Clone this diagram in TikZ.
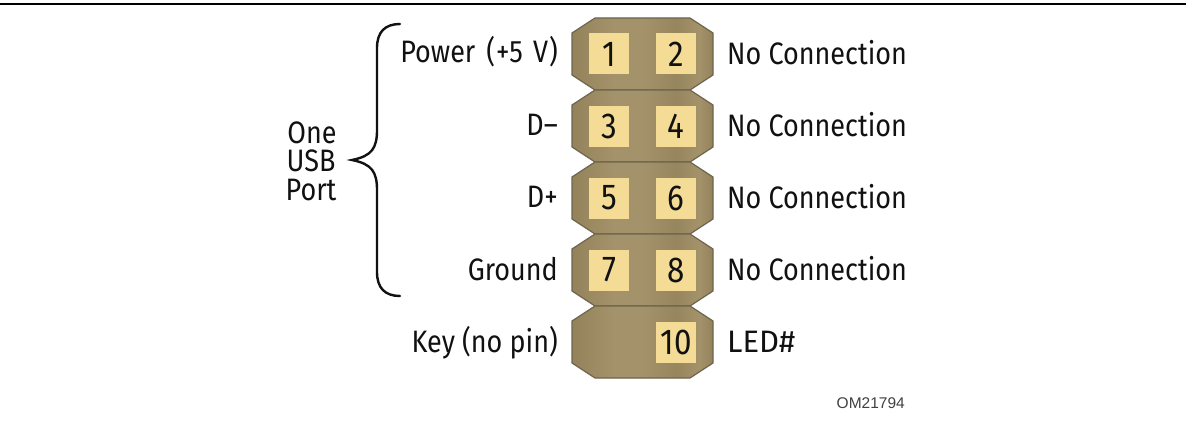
\documentclass[tikz,border=0pt]{standalone}
\usepackage{fontspec}
\setmainfont{Fira Sans}[FakeStretch=0.87]
\newfontfamily\omfont{Liberation Sans}
\newfontfamily\widefont{Fira Sans}
\definecolor{padfill}{HTML}{F5DC96}
\definecolor{bodyedge}{HTML}{6E6550}
\definecolor{bodyA}{HTML}{94825A}
\definecolor{bodyB}{HTML}{A4926A}
\definecolor{inkc}{HTML}{111111}
\pgfdeclarehorizontalshading{bodyshade}{100bp}{
 color(0bp)=(bodyA); color(25bp)=(bodyA); color(40bp)=(bodyB); color(50bp)=(bodyB);
 color(62bp)=(bodyA!80!bodyB); color(70bp)=(bodyB); color(75bp)=(bodyA); color(100bp)=(bodyA)}
\tikzset{
 x=1pt,y=-1pt,
 padbox/.style={fill=padfill,inner sep=0pt,minimum width=39.5pt,minimum height=41pt,font=\fontsize{36}{36}\selectfont,text=inkc},
 lbl/.style={inner sep=0pt,font=\fontsize{31}{31}\selectfont,text=inkc},
 lblr/.style={lbl,anchor=base east},
 lbll/.style={lbl,anchor=base west},
 hdr/.style={shading=bodyshade,shading angle=0,draw=bodyedge,line width=1.2pt,line join=miter},
}
\newcommand{\hdrbody}[1]{\path[hdr] (595,#1) -- (690,#1) -- (713,#1+15) -- (713,#1+57) -- (690,#1+72) -- (595,#1+72) -- (572,#1+57) -- (572,#1+15) -- cycle;}
\begin{document}
\begin{tikzpicture}
\useasboundingbox (0,0) rectangle (1186,428);
\fill[white] (0,0) rectangle (1186,428);
\draw[line width=1.6pt,black] (0,4) -- (1186,4);
\hdrbody{18}\hdrbody{90}\hdrbody{162}\hdrbody{234}\hdrbody{306}
\node[padbox] (p1) at (609,54) {1};
\node[padbox] (p2) at (676,54) {2};
\node[padbox] (p3) at (609,126) {3};
\node[padbox] (p4) at (676,126) {4};
\node[padbox] (p5) at (609,198) {5};
\node[padbox] (p6) at (676,198) {6};
\node[padbox] (p7) at (609,270) {7};
\node[padbox] (p8) at (676,270) {8};
\node[padbox] (p10) at (676,342) {10};
\node[lblr] (l1) at (558,63) {Power\hspace{4pt} (\hspace{1pt}+5\hspace{3pt} V\hspace{1pt})};
\node[lblr] (l3) at (558,135) {D–};
\node[lblr] (l5) at (558,207) {D+};
\node[lblr] (l7) at (558,280) {Ground};
\node[lblr] (lk) at (558,352) {Key (no pin)};
\node[lbll] (r2) at (727,64) {No Connection};
\node[lbll] (r4) at (727,136) {No Connection};
\node[lbll] (r6) at (727,208) {No Connection};
\node[lbll] (r8) at (727,280) {No Connection};
\node[lbll,font=\widefont\fontsize{31}{31}\selectfont] (r10) at (727,352) {LED\#};
\node[lbl,anchor=base] (o1) at (312,143) {One};
\node[lbl,anchor=base] (o2) at (311,171) {USB};
\node[lbl,anchor=base] (o3) at (311,200) {Port};
\node[inner sep=0pt,anchor=base east,font=\omfont\fontsize{15.5}{15.5}\selectfont,text=inkc!80!white] (om) at (905,408) {OM21794};
\draw[line width=2.4pt,inkc,line cap=round]
 (400,24) .. controls (385,24) and (377,32) .. (377,48)
 -- (377,130) .. controls (377,148) and (372,156) .. (352,160)
 .. controls (372,164) and (377,172) .. (377,190)
 -- (377,272) .. controls (377,288) and (385,296) .. (400,296);
\end{tikzpicture}
\end{document}
